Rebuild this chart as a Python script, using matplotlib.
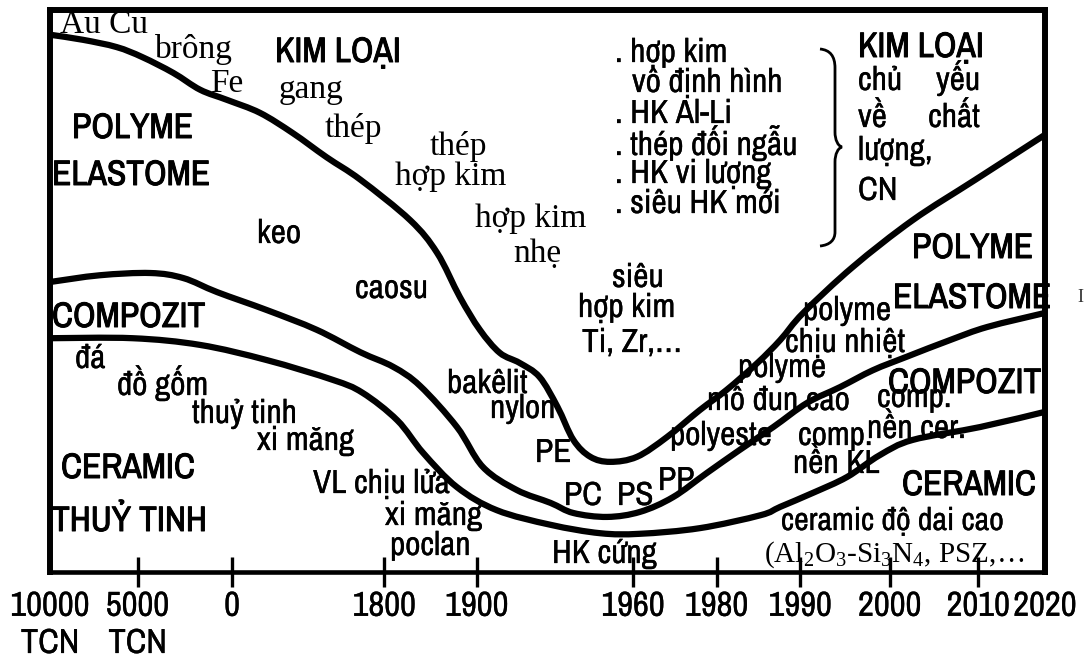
import matplotlib
matplotlib.use('Agg')
import matplotlib.pyplot as plt
import matplotlib.patheffects as pe
import numpy as np
from matplotlib.path import Path
from matplotlib.patches import PathPatch
from matplotlib import font_manager

# time axis: 0 = 10000 TCN ... 100 = 2020 (not to scale)
tick_pos = [0, 8.8, 18.3, 33.6, 42.9, 58.6, 67.0, 75.4, 84.4, 93.3, 100]
tick_labels = ['10000\nTCN', '5000\nTCN', '0', '1800', '1900', '1960',
               '1980', '1990', '2000', '2010', '2020']

# upper boundary: metals above, polymers below (relative importance 0-100)
metal_x = [0, 3.3, 6.7, 9.3, 12.4, 15.1, 17.8, 21.1, 24.4, 27.8, 31.2, 36.2,
           38.9, 41.2, 43.2, 45.2, 47.2, 49.2, 51.0, 52.6, 54.3, 56.3, 59.0,
           62.0, 65.3, 68.0, 71.1, 73.4, 75.7, 80.7, 86.7, 93.0, 100]
metal_y = [95.6, 94.7, 93.4, 91.6, 88.8, 85.8, 84.0, 81.7, 78.1, 73.8, 69.8,
           62.6, 56.8, 48.9, 43.1, 39.0, 37.2, 34.7, 29.4, 23.5, 20.5, 19.6,
           20.5, 24.0, 28.8, 32.4, 37.2, 41.3, 46.1, 54.3, 62.6, 69.8, 77.8]

# middle boundary: polymers above, composites below
poly_x = [0, 5.0, 10.1, 13.4, 16.8, 21.8, 26.8, 31.2, 34.5, 37.2, 40.9, 43.5,
          46.9, 50.3, 52.6, 56.0, 59.3, 62.6, 66.0, 69.3, 72.7, 76.1, 79.4,
          82.7, 86.1, 90.5, 94.2, 100]
poly_y = [51.6, 52.8, 53.2, 52.3, 49.8, 46.6, 43.1, 39.1, 36.5, 33.1, 25.8,
          18.7, 14.6, 12.3, 10.5, 9.8, 10.7, 13.3, 17.6, 21.7, 25.8, 30.1,
          32.9, 35.9, 38.3, 41.3, 43.6, 46.1]

# lower boundary: composites above, ceramics below
cer_x = [0, 8.3, 15.1, 21.8, 28.4, 31.4, 34.9, 37.5, 40.9, 44.9, 50.3, 55.3,
         59.3, 65.3, 71.4, 73.4, 76.7, 80.1, 83.4, 86.7, 93.5, 100]
cer_y = [41.6, 41.6, 40.4, 37.7, 34.2, 31.9, 27.0, 21.2, 15.1, 11.0, 8.4, 6.9,
         6.8, 7.8, 10.1, 11.6, 14.1, 16.9, 20.8, 23.5, 25.8, 28.5]

installed = {f.name for f in font_manager.fontManager.ttflist}
narrow = [n for n in ['Liberation Sans Narrow', 'Arial Narrow', 'Archivo Narrow',
                      'Roboto Condensed', 'IBM Plex Sans Condensed',
                      'Open Sans Condensed', 'Liberation Sans'] if n in installed][0]
sans = [narrow, 'DejaVu Sans']
serif = ['Liberation Serif', 'DejaVu Serif']
plt.rcParams['mathtext.fontset'] = 'custom'
plt.rcParams['mathtext.rm'] = 'Liberation Serif'

heavy = [pe.withStroke(linewidth=0.7, foreground='black')]
semi = [pe.withStroke(linewidth=0.2, foreground='black')]


def smooth_path(xs, ys):
    """Catmull-Rom through the points, as cubic bezier segments."""
    p = np.column_stack([xs, ys]).astype(float)
    ext = np.vstack([p[0], p, p[-1]])
    verts, codes = [p[0]], [Path.MOVETO]
    for i in range(len(p) - 1):
        p0, p1, p2, p3 = ext[i], ext[i + 1], ext[i + 2], ext[i + 3]
        verts += [p1 + (p2 - p0) / 6, p2 - (p3 - p1) / 6, p2]
        codes += [Path.CURVE4] * 3
    return Path(verts, codes)


def img(xp, yp):
    """position measured on the original picture -> data coords"""
    return (xp - 50) / 9.95, (572 - yp) / 5.62


fig = plt.figure(figsize=(10.84, 6.71), dpi=100)
ax = fig.add_axes([50 / 1084, 1 - 572 / 671, 995 / 1084, 562 / 671])
ax.set_xlim(0, 100)
ax.set_ylim(0, 100)

for xs, ys in [(metal_x, metal_y), (poly_x, poly_y), (cer_x, cer_y)]:
    ax.add_patch(PathPatch(smooth_path(xs, ys), fill=False, lw=4.5,
                           ec='black', capstyle='round', joinstyle='round'))

# curly brace in front of the "KIM LOẠI" note
b = [img(820, 49), img(830, 50), img(835, 56), img(835, 68),
     img(835, 132),
     img(835, 140), img(838, 146), img(842, 147),
     img(838, 148), img(835, 154), img(835, 162),
     img(835, 232),
     img(835, 240), img(830, 245), img(820, 246)]
bc = [Path.MOVETO, Path.CURVE4, Path.CURVE4, Path.CURVE4, Path.LINETO,
      Path.CURVE4, Path.CURVE4, Path.CURVE4, Path.CURVE4, Path.CURVE4,
      Path.CURVE4, Path.LINETO, Path.CURVE4, Path.CURVE4, Path.CURVE4]
ax.add_patch(PathPatch(Path(b, bc), fill=False, lw=2, ec='black'))

bold_labels = [
    ('KIM LOẠI', 275, 62), ('KIM LOẠI', 858, 57),
    ('POLYME', 72, 138), ('ELASTOME', 52, 185),
    ('COMPOZIT', 52, 327), ('CERAMIC', 61, 478), ('THUỶ TINH', 52, 531),
    ('POLYME', 912, 258), ('ELASTOME', 893, 308),
    ('COMPOZIT', 888, 393), ('CERAMIC', 902, 495),
]
for t, xp, yp in bold_labels:
    ax.text(*img(xp, yp), t, family=sans, weight='bold', fontsize=25.5,
            ha='left', va='baseline', path_effects=heavy)

serif_labels = [
    ('Au Cu', 60, 33), ('brông', 155, 58), ('Fe', 210, 92),
    ('gang', 279, 98), ('thép', 325, 137), ('thép', 430, 155),
    ('hợp kim', 395, 185), ('hợp kim', 475, 227), ('nhẹ', 513, 262),
]
for t, xp, yp in serif_labels:
    ax.text(*img(xp, yp), t, family=serif, fontsize=24,
            ha='left', va='baseline')
ax.text(*img(764, 562), r'(Al$_2$O$_3$-Si$_3$N$_4$, PSZ,…', family=serif,
        fontsize=21, ha='left', va='baseline')

small_labels = [
    ('keo', 257, 243), ('caosu', 355, 298),
    ('siêu', 612, 287), ('hợp kim', 578, 317), ('Ti, Zr,…', 582, 352),
    ('bakêlit', 447, 393), ('nylon', 490, 418), ('PE', 535, 462),
    ('PC', 564, 505), ('PS', 617, 505), ('PP', 658, 490),
    ('polyeste', 670, 445), ('polyme', 738, 377), ('mô đun cao', 707, 410),
    ('polyme', 803, 320), ('chịu nhiệt', 785, 352),
    ('comp.', 877, 407), ('nền cer.', 867, 438),
    ('comp.', 798, 445), ('nền KL', 793, 473),
    ('HK cứng', 552, 563),
    ('đá', 75, 368), ('đồ gốm', 117, 395), ('thuỷ tinh', 192, 423),
    ('xi măng', 257, 450), ('VL chịu lửa', 313, 493),
    ('xi măng', 385, 525), ('poclan', 390, 555),
    ('. hợp kim', 615, 62), ('vô định hình', 632, 92),
    ('. HK Al-Li', 615, 123), ('. thép đối ngẫu', 615, 155),
    ('. HK vi lượng', 615, 183), ('. siêu HK mới', 615, 213),
    ('chủ', 858, 90), ('về', 858, 127), ('lượng,', 858, 160), ('CN', 858, 200),
]
for t, xp, yp in small_labels:
    ax.text(*img(xp, yp), t, family=sans, fontsize=24,
            ha='left', va='baseline', path_effects=semi)
ax.text(*img(781, 530), 'ceramic độ dai cao', family=sans, fontsize=23,
        ha='left', va='baseline', path_effects=semi)
for t, xp, yp in [('yếu', 980, 90), ('chất', 980, 127)]:
    ax.text(*img(xp, yp), t, family=sans, fontsize=24,
            ha='right', va='baseline', path_effects=semi)

# frame and time axis
for side in ['left', 'top', 'right']:
    ax.spines[side].set_linewidth(4.3)
ax.spines['bottom'].set_linewidth(3.3)
ax.set_yticks([])
ax.set_xticks(tick_pos, tick_labels, family=sans, fontsize=25)
ax.tick_params(axis='x', direction='inout', length=21.6, width=2.4, pad=2)
ticks = ax.xaxis.get_major_ticks()
ticks[0].tick1line.set_visible(False)
ticks[-1].tick1line.set_visible(False)
for lab in ax.get_xticklabels():
    lab.set_path_effects(semi)

fig.text(1080 / 1084, 1 - 297 / 671, 'I', family=serif, fontsize=13,
         ha='center', va='center', color='#333333')

fig.savefig('out.png', dpi=100)
